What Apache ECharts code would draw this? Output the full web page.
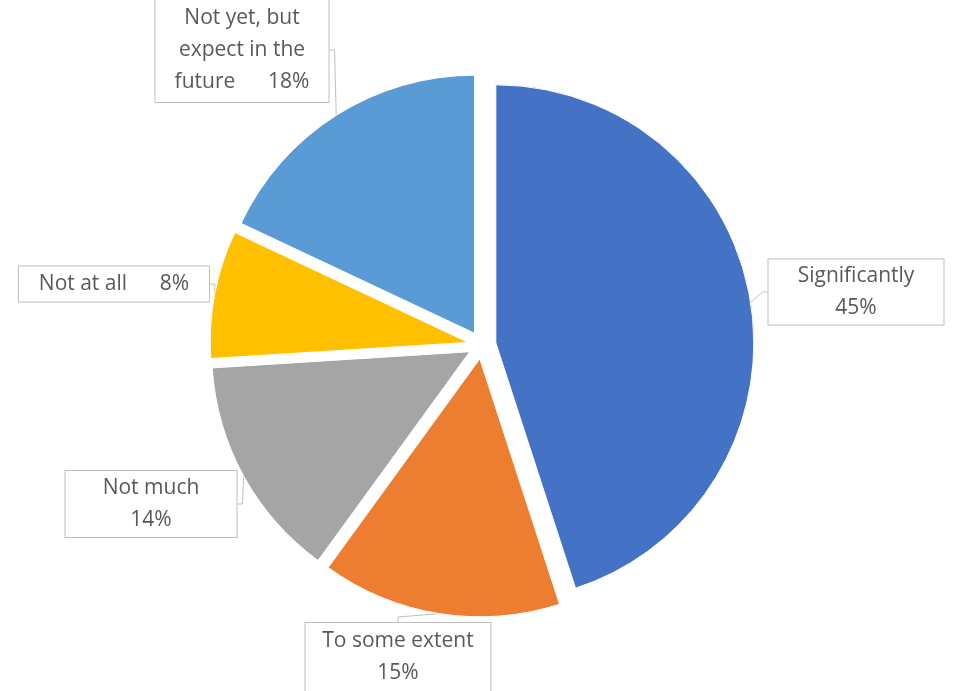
<!DOCTYPE html>
<html>
<head>
<meta charset="utf-8">
<script src="https://cdn.jsdelivr.net/npm/echarts@6/dist/echarts.min.js"></script>
<style>
html,body{margin:0;padding:0;background:#fff;}
#chart{width:959px;height:691px;}
</style>
</head>
<body>
<div id="chart"></div>
<script>
const categories = ['Significantly', 'To some extent', 'Not much', 'Not at all', 'Not yet, but expect in the future'];
const values = [45, 15, 14, 8, 18];
const labelTexts = [
  'Significantly\n45%',
  'To some extent\n15%',
  'Not much\n14%',
  'Not at all      8%',
  'Not yet, but\nexpect in the\nfuture      18%'
];
const colors = ['#4472C4', '#ED7D31', '#A5A5A5', '#FFC000', '#5B9BD5'];

// label box layout (center x, center y, width, height)
const boxes = [
  [856, 292, 177, 67],
  [398, 657, 187, 70],
  [151, 504, 173, 68],
  [114, 284, 192, 37],
  [242, 50, 175, 106]
];

const CX = 482, CY = 345, R = 258, EXPLODE = 14;
const total = values.reduce((a, b) => a + b, 0);

const chart = echarts.init(document.getElementById('chart'), null, {renderer: 'canvas'});

// one pie series per slice so each slice can be exploded along its own mid-angle
let acc = 0;
const series = categories.map((cat, i) => {
  const mid = (acc + values[i] / 2) / total * 2 * Math.PI;
  acc += values[i];
  const cx = CX + EXPLODE * Math.sin(mid);
  const cy = CY - EXPLODE * Math.cos(mid);
  return {
    type: 'pie',
    center: [cx, cy],
    radius: R,
    startAngle: 90,
    clockwise: true,
    silent: true,
    emphasis: {disabled: true},
    data: categories.map((c, j) => ({
      name: c,
      value: values[j],
      itemStyle: j === i
        ? {color: colors[j], borderColor: '#fff', borderWidth: 1}
        : {color: 'rgba(0,0,0,0)', borderWidth: 0},
      label: {show: j === i},
      labelLine: {show: j === i}
    })),
    label: {
      position: 'outside',
      formatter: p => labelTexts[p.dataIndex],
      fontFamily: 'Open Sans',
      fontSize: 21,
      lineHeight: 32,
      color: '#595959',
      backgroundColor: '#fff',
      borderColor: '#BFBFBF',
      borderWidth: 1,
      padding: 0
    },
    labelLine: {
      length: 5,
      length2: 5,
      lineStyle: {color: '#BFBFBF', width: 1}
    },
    labelLayout: function (params) {
      const b = boxes[params.dataIndex];
      return {
        x: b[0], y: b[1],
        align: 'center', verticalAlign: 'middle',
        width: b[2] - 2, height: b[3] - 2,
        moveOverlap: false
      };
    }
  };
});

chart.setOption({animation: false, series: series});
</script>
</body>
</html>
